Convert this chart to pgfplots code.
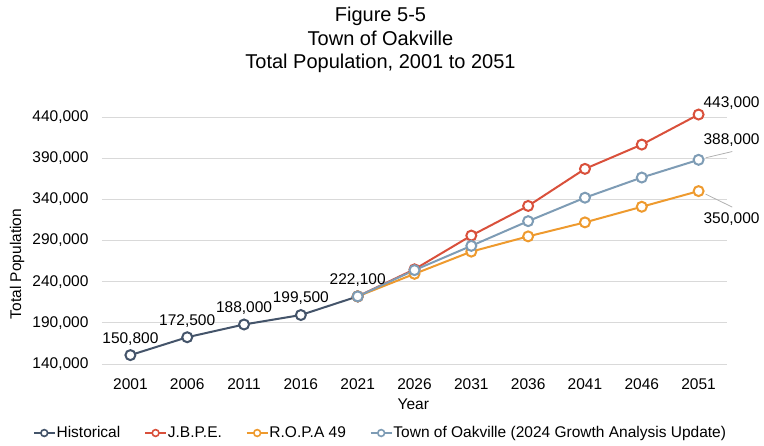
\documentclass[border=0pt]{standalone}
\usepackage{fontspec}
\setmainfont{Liberation Sans}
\usepackage{pgfplots}
\pgfplotsset{compat=1.18}
\definecolor{histc}{HTML}{44546A}
\definecolor{jbpec}{HTML}{D9503B}
\definecolor{ropac}{HTML}{EE9A2E}
\definecolor{townc}{HTML}{7E9CB5}
\definecolor{gridc}{HTML}{D9D9D9}
\newcommand{\lf}{\fontsize{15.5}{18}\selectfont}
\begin{document}
\begin{tikzpicture}
\path[use as bounding box] (-102pt,-81pt) rectangle (662pt,364pt);
\node[anchor=base,font=\fontsize{20}{23}\selectfont] at (278.5pt,342.3pt) {Figure 5-5};
\node[anchor=base,font=\fontsize{20}{23}\selectfont] at (278.5pt,318.5pt) {Town of Oakville};
\node[anchor=base,font=\fontsize{20}{23}\selectfont] at (278.5pt,295.7pt) {Total Population, 2001 to 2051};
\begin{axis}[
  width=625pt, height=247pt, scale only axis,
  xmin=-0.5, xmax=10.5, ymin=140000, ymax=440000,
  xtick={0,...,10},
  xticklabels={2001,2006,2011,2016,2021,2026,2031,2036,2041,2046,2051},
  ytick={140000,190000,240000,290000,340000,390000,440000},
  scaled y ticks=false,
  /pgf/number format/assume math mode=true,
  yticklabel style={/pgf/number format/fixed,/pgf/number format/1000 sep={,},anchor=east,xshift=-10pt,font=\lf},
  xticklabel style={anchor=center,yshift=-20pt,font=\lf},
  major tick length=0pt,
  axis line style={draw=none},
  ymajorgrids, grid style={gridc,line width=1pt},
  clip=false,
  xlabel={Year}, ylabel={Total Population},
  every axis x label/.style={at={(axis description cs:0.498,-0.162)},anchor=center,font=\lf},
  every axis y label/.style={at={(axis description cs:-0.136,0.405)},anchor=center,rotate=90,font=\lf},
  every axis plot/.append style={line width=2pt, mark=*, mark size=5pt, mark options={solid,fill=white,line width=2pt}},
  legend columns=4,
  legend style={draw=none,fill=none,font=\lf,at={(axis description cs:0.4448,-0.2794)},anchor=center,
    /tikz/every even column/.append style={column sep=23pt},
    nodes={inner xsep=1pt}},
  legend image code/.code={\draw[mark repeat=2,mark phase=2,line width=1.6pt,mark size=3.4pt,mark options={line width=1.6pt,fill=white}] plot coordinates {(0pt,0pt) (10.5pt,0pt) (21pt,0pt)};},
]
\addplot[histc, nodes near coords, point meta=y,
  nodes near coords style={anchor=center,yshift=16.5pt,font=\lf,text=black,/pgf/number format/fixed,/pgf/number format/1000 sep={,}}]
  coordinates {(0,150800)(1,172500)(2,188000)(3,199500)(4,222100)};
\addlegendentry{Historical}
\addplot[jbpec] coordinates {(4,222100)(5,255000)(6,296000)(7,332000)(8,377000)(9,406500)(10,443000)};
\addlegendentry{J.B.P.E.}
\addplot[ropac] coordinates {(4,222100)(5,249500)(6,276500)(7,295000)(8,312000)(9,331000)(10,350000)};
\addlegendentry{R.O.P.A 49}
\addplot[townc] coordinates {(4,222100)(5,254000)(6,283500)(7,313500)(8,342000)(9,366500)(10,388000)};
\addlegendentry{Town of Oakville (2024 Growth Analysis Update)}
\draw[gray!60,line width=0.8pt] ([xshift=7pt,yshift=2pt]axis cs:10,388000) -- ([xshift=33.7pt,yshift=8.3pt]axis cs:10,388000);
\draw[gray!60,line width=0.8pt] ([xshift=7pt,yshift=-3pt]axis cs:10,350000) -- ([xshift=33.7pt,yshift=-16pt]axis cs:10,350000);
\node[font=\lf,anchor=center] at ([xshift=33pt,yshift=11.7pt]axis cs:10,443000) {443,000};
\node[font=\lf,anchor=center] at ([xshift=33pt,yshift=19.3pt]axis cs:10,388000) {388,000};
\node[font=\lf,anchor=center] at ([xshift=33pt,yshift=-28pt]axis cs:10,350000) {350,000};
\end{axis}
\end{tikzpicture}
\end{document}
